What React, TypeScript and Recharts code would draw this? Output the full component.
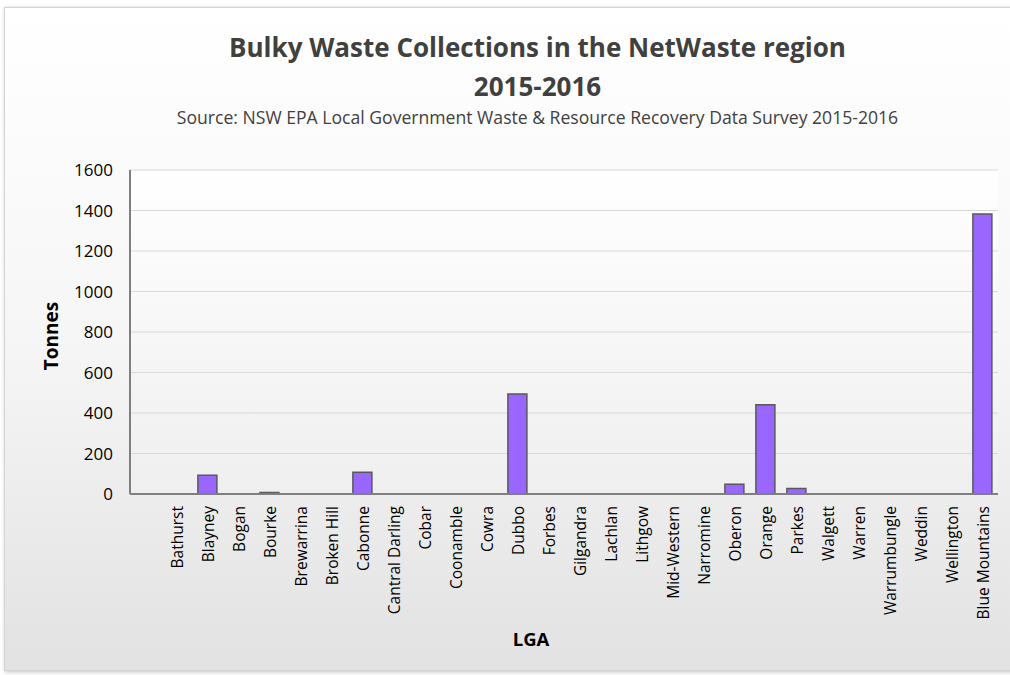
import { Bar, BarChart, CartesianGrid, XAxis, YAxis } from 'recharts'

// first slot is left blank in the original chart
const lgaNames = [
  '',
  'Bathurst',
  'Blayney',
  'Bogan',
  'Bourke',
  'Brewarrina',
  'Broken Hill',
  'Cabonne',
  'Cantral Darling',
  'Cobar',
  'Coonamble',
  'Cowra',
  'Dubbo',
  'Forbes',
  'Gilgandra',
  'Lachlan',
  'Lithgow',
  'Mid-Western',
  'Narromine',
  'Oberon',
  'Orange',
  'Parkes',
  'Walgett',
  'Warren',
  'Warrumbungle',
  'Weddin',
  'Wellington',
  'Blue Mountains',
]

const tonnes = [
  null, 0, 92, 0, 8, 0, 0, 107, 0, 0, 0, 0, 494, 0, 0, 0, 0, 0, 0, 48, 441, 27, 0, 0, 0, 0, 0, 1383,
]

const yTicks = [0, 200, 400, 600, 800, 1000, 1200, 1400, 1600]

const chartData = lgaNames.map((lga, i) => ({ lga, tonnes: tonnes[i] }))

const FONT = '"Open Sans", "Noto Sans", sans-serif'

function LgaTick({ x, y, payload }: any) {
  const ty = y + 4
  return (
    <text
      x={x}
      y={ty}
      transform={`rotate(-90, ${x}, ${ty})`}
      textAnchor="end"
      dominantBaseline="central"
      fontSize={15.5}
      fontFamily={FONT}
      fill="#000"
    >
      {payload.value}
    </text>
  )
}

export default function App() {
  return (
    <div
      style={{
        position: 'absolute',
        left: 0,
        top: 0,
        width: 1010,
        height: 675,
        background: '#fff',
        overflow: 'hidden',
        fontFamily: FONT,
      }}
    >
      <div
        style={{
          position: 'absolute',
          left: 4,
          top: 7,
          width: 1020,
          height: 662,
          border: '1px solid #d4d4d4',
          boxShadow: '1px 1px 4px rgba(0,0,0,0.25)',
          background: 'linear-gradient(#ffffff 0%, #f6f6f6 50%, #e2e2e2 100%)',
        }}
      />
      <div
        style={{
          position: 'absolute',
          left: 0,
          top: 28,
          width: 1075,
          textAlign: 'center',
          fontSize: 26,
          fontWeight: 'bold',
          color: '#404040',
          lineHeight: '39px',
        }}
      >
        Bulky Waste Collections in the NetWaste region
        <br />
        2015-2016
      </div>
      <div
        style={{
          position: 'absolute',
          left: 0,
          top: 105,
          width: 1075,
          textAlign: 'center',
          fontSize: 17.6,
          color: '#404040',
        }}
      >
        Source: NSW EPA Local Government Waste &amp; Resource Recovery Data Survey 2015-2016
      </div>
      <div
        style={{
          position: 'absolute',
          left: 51,
          top: 336,
          transform: 'translate(-50%, -50%) rotate(-90deg)',
          fontSize: 19,
          fontWeight: 'bold',
          color: '#000',
        }}
      >
        Tonnes
      </div>
      <div
        style={{
          position: 'absolute',
          left: 531,
          top: 638,
          transform: 'translate(-50%, -50%)',
          fontSize: 18.5,
          fontWeight: 'bold',
          color: '#000',
        }}
      >
        LGA
      </div>
      <div style={{ position: 'absolute', left: 0, top: 0 }}>
        <BarChart
          width={1010}
          height={675}
          data={chartData}
          margin={{ top: 170, right: 12, left: 70, bottom: 41 }}
          barCategoryGap="19%"
        >
          <defs>
            <linearGradient id="plotBg" x1="0" y1="0" x2="0" y2="1">
              <stop offset="0%" stopColor="#ffffff" />
              <stop offset="100%" stopColor="#efefef" />
            </linearGradient>
          </defs>
          <CartesianGrid
            vertical={false}
            stroke="#d9d9d9"
            strokeWidth={1.2}
            fill="url(#plotBg)"
          />
          <XAxis
            dataKey="lga"
            interval={0}
            height={140}
            tickLine={false}
            axisLine={{ stroke: '#7f7f7f', strokeWidth: 2 }}
            tick={<LgaTick />}
          />
          <YAxis
            width={60}
            domain={[0, 1600]}
            ticks={yTicks}
            tickLine={false}
            axisLine={{ stroke: '#7f7f7f', strokeWidth: 2 }}
            tick={{ fontSize: 17, fill: '#000', fontFamily: FONT }}
            tickMargin={11}
          />
          <YAxis
            yAxisId="right"
            orientation="right"
            width={0}
            domain={[0, 1600]}
            tick={false}
            tickLine={false}
            axisLine={{ stroke: '#7f7f7f', strokeWidth: 2 }}
          />
          <XAxis
            xAxisId="top"
            orientation="top"
            dataKey="lga"
            height={0}
            tick={false}
            tickLine={false}
            axisLine={{ stroke: '#7f7f7f', strokeWidth: 2 }}
          />
          <Bar
            dataKey="tonnes"
            fill="#9966ff"
            stroke="#595959"
            strokeWidth={1.5}
            isAnimationActive={false}
          />
        </BarChart>
      </div>
    </div>
  )
}
